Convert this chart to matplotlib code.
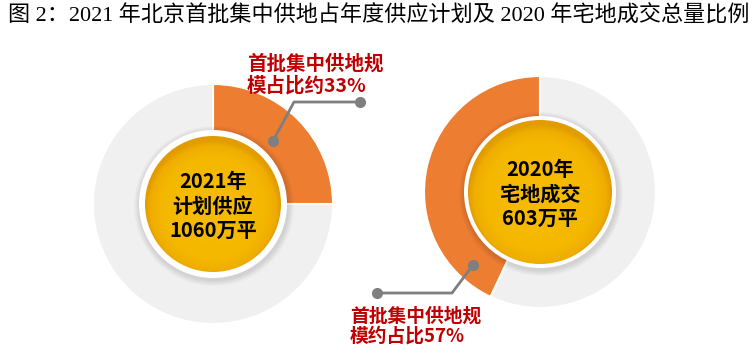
import numpy as np
import matplotlib
matplotlib.use("Agg")
import matplotlib.pyplot as plt
from matplotlib.patches import Circle
from matplotlib.colors import LinearSegmentedColormap

# ---------------- data ----------------
title = "图 2：2021 年北京首批集中供地占年度供应计划及 2020 年宅地成交总量比例"
left_shares = [0.25, 0.75]      # orange (first batch) vs rest, as drawn
right_shares = [0.43, 0.57]
center_labels = ["2021年\n计划供应\n1060万平", "2020年\n宅地成交\n603万平"]
callout_labels = ["首批集中供地规\n模占比约33%", "首批集中供地规\n模约占比57%"]

# ---------------- style ----------------
W, H = 755, 358
ORANGE = "#ED7D31"
GRAY = "#F0F0F0"
RED = "#C00000"
LINE = "#7F7F7F"
CJK = ["Noto Sans CJK SC", "DejaVu Sans"]

fig = plt.figure(figsize=(W / 100, H / 100), dpi=100)
ax = fig.add_axes([0, 0, 1, 1])
fig.patch.set_facecolor("white")

def Y(y):
    return H - y

yellow_cmap = LinearSegmentedColormap.from_list(
    "yel", [(0.0, "#F7BC00"), (0.75, "#F5B800"), (0.92, "#F0AE00"), (1.0, "#E29C00")])

def donut(cx, cy, r, shares, ccw, r_white, r_yellow, label):
    ax.pie(shares, center=(cx, Y(cy)), radius=r, startangle=90, counterclock=ccw,
           colors=[ORANGE, GRAY], wedgeprops=dict(edgecolor="white", linewidth=1.5))
    # soft shadow of the white ring
    for k in range(6):
        ax.add_patch(Circle((cx + 1, Y(cy) - 2), r_white + 6 - k, color="#000000",
                            alpha=0.02, lw=0, zorder=3))
    ax.add_patch(Circle((cx, Y(cy)), r_white, color="white", lw=0, zorder=4))
    # yellow gradient disc
    n = 200
    g = np.linspace(-1, 1, n)
    xx, yy = np.meshgrid(g, g)
    rr = np.sqrt(xx ** 2 + (yy + 0.06) ** 2)
    clip = Circle((cx, Y(cy)), r_yellow, transform=ax.transData, fc="none", lw=0)
    ax.add_patch(clip)
    im = ax.imshow(np.clip(rr, 0, 1), cmap=yellow_cmap, vmin=0, vmax=1,
                   extent=(cx - r_yellow, cx + r_yellow, Y(cy) - r_yellow, Y(cy) + r_yellow),
                   origin="lower", zorder=5, interpolation="bilinear")
    im.set_clip_path(clip)
    ax.text(cx, Y(cy + 2), label, ha="center", va="center", fontsize=14.5,
            fontweight="bold", family=CJK, color="black", linespacing=1.2, zorder=6)

donut(213, 204, 120, left_shares, False, 74, 68, center_labels[0])
donut(540, 192, 116, right_shares, True, 76, 72, center_labels[1])

# callouts
ax.plot([273, 294, 360], [Y(141), Y(102), Y(102)], color=LINE, lw=2, zorder=7,
        solid_capstyle="round")
ax.plot([273, 360], [Y(141), Y(102)], "o", color=LINE, ms=7, zorder=8)
ax.text(247, Y(75), callout_labels[0], ha="left", va="center", fontsize=14,
        fontweight="bold", family=CJK, color=RED, linespacing=1.15, zorder=8)

ax.plot([473, 452, 377], [Y(265), Y(293), Y(293)], color=LINE, lw=2, zorder=7,
        solid_capstyle="round")
ax.plot([473, 377], [Y(265), Y(293)], "o", color=LINE, ms=7, zorder=8)
ax.text(350, Y(326), callout_labels[1], ha="left", va="center", fontsize=13.5,
        fontweight="bold", family=CJK, color=RED, linespacing=1.05, zorder=8)

# title
ax.text(8, Y(16), title, ha="left", va="center", fontsize=15.9,
        family=["Liberation Serif", "Noto Sans CJK SC"], color="black")

ax.set_xlim(0, W)
ax.set_ylim(0, H)
ax.set_aspect("equal")
ax.axis("off")

fig.savefig("out.png", dpi=100, facecolor="white")
